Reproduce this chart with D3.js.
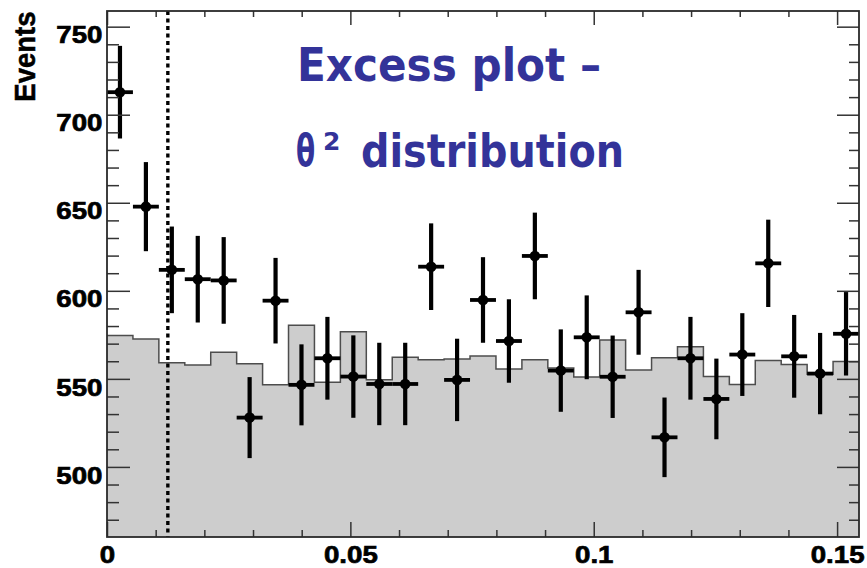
<!DOCTYPE html>
<html>
<head>
<meta charset="utf-8">
<script src="https://cdn.jsdelivr.net/npm/d3@7"></script>
<style>
  html, body { margin: 0; padding: 0; background: #fff; }
  svg { display: block; }
</style>
</head>
<body>
<svg id="chart" width="867" height="568"></svg>
<script>
// ---------------- data ----------------
const xMax = 0.1545;            // upper edge of the theta^2 axis
const nBins = 29;               // number of histogram bins
const thetaCut = 0.0125;        // dotted cut line
// excess events per bin (points)
const excess = [712.8, 647.8, 611.9, 606.6, 605.9, 528.0, 594.4, 546.6, 561.7, 551.3,
                547.1, 547.1, 613.7, 549.4, 594.8, 571.5, 619.8, 554.7, 573.6, 551.2,
                587.8, 516.8, 561.7, 538.6, 563.8, 615.6, 562.8, 553.0, 575.6];
// statistical error per bin
const errors = [26.3, 25.3, 24.6, 24.6, 24.6, 23.0, 24.3, 23.0, 23.5, 23.4,
                23.4, 23.4, 24.6, 23.4, 24.3, 23.7, 24.6, 23.4, 23.8, 23.4,
                24.1, 22.6, 23.5, 22.9, 23.5, 24.8, 23.5, 23.1, 23.7];
// grey reference histogram per bin
const background = [574.6, 572.7, 559.2, 557.9, 565.1, 558.6, 546.6, 580.5, 548.1, 576.8,
                    549.5, 562.3, 560.8, 561.3, 563.0, 555.6, 560.8, 556.2, 551.1, 572.1,
                    555.1, 562.0, 568.2, 551.3, 546.8, 560.4, 558.2, 552.6, 559.8];
const xMajorTicks = [0, 0.05, 0.1, 0.15];
const xTickLabels = ["0", "0.05", "0.1", "0.15"];
const yMajorTicks = [500, 550, 600, 650, 700, 750];
const yTickLabels = ["500", "550", "600", "650", "700", "750"];
const yTitle = "Events";
const titleLine1 = "Excess plot \u2013";
const titleTheta = "\u03b8";
const titleSup = "2";
const titleLine2 = "distribution";

// ---------------- layout ----------------
const L = 107, R = 859, T = 11, B = 537;
const svg = d3.select("#chart");
const x = d3.scaleLinear().domain([0, xMax]).range([L, R]);
const y = d3.scaleLinear().domain([460.2, 758.9]).range([B, T]);
const binW = xMax / nBins;
const edges = d3.range(nBins + 1).map(i => i * binW);

const xMinor = d3.range(0, 0.1545, 0.01).map(v => +v.toFixed(3)).filter(v => !xMajorTicks.some(m => Math.abs(m - v) < 1e-9));
const yMinor = d3.range(470, 751, 10).filter(v => v % 50 !== 0);

svg.append("rect").attr("x", 0).attr("y", 0).attr("width", 867).attr("height", 568).attr("fill", "#fff");

svg.append("clipPath").attr("id", "frameClip")
  .append("rect").attr("x", L).attr("y", T).attr("width", R - L).attr("height", B - T);

const plot = svg.append("g").attr("clip-path", "url(#frameClip)");

// grey histogram
const histPts = background.map((v, i) => [edges[i], v]).concat([[edges[nBins], background[nBins - 1]]]);
const area = d3.area().x(d => x(d[0])).y0(y(y.domain()[0]) + 2).y1(d => y(d[1])).curve(d3.curveStepAfter);
plot.append("path").datum(histPts).attr("d", area).attr("fill", "#cdcdcd");
const line = d3.line().x(d => x(d[0])).y(d => y(d[1])).curve(d3.curveStepAfter);
plot.append("path").datum(histPts).attr("d", line).attr("fill", "none")
  .attr("stroke", "#4d4d4d").attr("stroke-width", 1.5);

// dotted cut line
plot.append("line").attr("x1", x(thetaCut)).attr("x2", x(thetaCut))
  .attr("y1", T).attr("y2", B)
  .attr("stroke", "#000").attr("stroke-width", 3.4).attr("stroke-dasharray", "4,3.5");

// data points with errors
const pts = plot.append("g");
excess.forEach((v, i) => {
  const cx = x(edges[i] + binW / 2);
  pts.append("line").attr("x1", cx).attr("x2", cx)
    .attr("y1", y(v - errors[i])).attr("y2", y(v + errors[i]))
    .attr("stroke", "#000").attr("stroke-width", 4.2);
  pts.append("line").attr("x1", x(edges[i])).attr("x2", x(edges[i + 1]))
    .attr("y1", y(v)).attr("y2", y(v))
    .attr("stroke", "#000").attr("stroke-width", 3.8);
  pts.append("circle").attr("cx", cx).attr("cy", y(v)).attr("r", 5.3).attr("fill", "#000");
});

// ---------------- axes (ticks inward on all 4 sides) ----------------
const tickColor = "#333";
const labelFont = "'Liberation Sans', Arial, sans-serif";
function styleAxis(g) {
  g.select(".domain").remove();
  g.selectAll(".tick line").attr("stroke", tickColor).attr("stroke-width", 1.5);
}
function styleLabels(sel) {
  sel.attr("font-family", labelFont)
    .attr("font-weight", "bold").attr("font-size", 24.5).attr("fill", "#000")
    .attr("stroke", "#000").attr("stroke-width", 0.7)
    .attr("transform", "scale(1.13,1)");
}
// left
svg.append("g").attr("transform", `translate(${L},0)`)
  .call(d3.axisLeft(y).tickValues(yMajorTicks).tickSize(-23).tickFormat((d, i) => yTickLabels[i]))
  .call(styleAxis)
  .call(g => g.selectAll("text").attr("x", -4).attr("dy", "0.66em").call(styleLabels));
svg.append("g").attr("transform", `translate(${L},0)`)
  .call(d3.axisLeft(y).tickValues(yMinor).tickSize(-12).tickFormat(""))
  .call(styleAxis);
// right
svg.append("g").attr("transform", `translate(${R},0)`)
  .call(d3.axisRight(y).tickValues(yMajorTicks).tickSize(-22).tickFormat(""))
  .call(styleAxis);
svg.append("g").attr("transform", `translate(${R},0)`)
  .call(d3.axisRight(y).tickValues(yMinor).tickSize(-10).tickFormat(""))
  .call(styleAxis);
// bottom
svg.append("g").attr("transform", `translate(0,${B})`)
  .call(d3.axisBottom(x).tickValues(xMajorTicks).tickSize(-15).tickFormat((d, i) => xTickLabels[i]))
  .call(styleAxis)
  .call(g => g.selectAll("text").attr("y", 26.5).attr("dy", 0).call(styleLabels));
svg.append("g").attr("transform", `translate(0,${B})`)
  .call(d3.axisBottom(x).tickValues(xMinor).tickSize(-7).tickFormat(""))
  .call(styleAxis);
// top
svg.append("g").attr("transform", `translate(0,${T})`)
  .call(d3.axisTop(x).tickValues(xMajorTicks).tickSize(-14).tickFormat(""))
  .call(styleAxis);
svg.append("g").attr("transform", `translate(0,${T})`)
  .call(d3.axisTop(x).tickValues(xMinor).tickSize(-6).tickFormat(""))
  .call(styleAxis);

// frame
svg.append("rect").attr("x", L).attr("y", T).attr("width", R - L).attr("height", B - T)
  .attr("fill", "none").attr("stroke", "#2a2a2a").attr("stroke-width", 1.8);

// y title
svg.append("text")
  .attr("transform", "translate(35,11.5) rotate(-90) scale(1,1.08)")
  .attr("text-anchor", "end")
  .attr("font-family", labelFont)
  .attr("font-weight", "bold").attr("font-size", 27.5).attr("fill", "#000")
  .attr("stroke", "#000").attr("stroke-width", 0.5)
  .text(yTitle);

// annotation text
const titleColor = "#333399";
const titleFont = "'DejaVu Sans', 'Noto Sans', sans-serif";
svg.append("text").attr("x", 297).attr("y", 80.5)
  .attr("font-family", titleFont).attr("font-weight", "bold").attr("font-size", 47)
  .attr("fill", titleColor)
  .attr("textLength", 304).attr("lengthAdjust", "spacingAndGlyphs")
  .text(titleLine1);
svg.append("text").attr("transform", "translate(296,166) scale(0.62,1)")
  .attr("font-family", titleFont).attr("font-weight", "bold").attr("font-size", 45)
  .attr("fill", titleColor)
  .text(titleTheta);
svg.append("text").attr("x", 323).attr("y", 150)
  .attr("font-family", titleFont).attr("font-weight", "bold").attr("font-size", 25)
  .attr("fill", titleColor)
  .text(titleSup);
svg.append("text").attr("x", 361).attr("y", 166.5)
  .attr("font-family", titleFont).attr("font-weight", "bold").attr("font-size", 47)
  .attr("fill", titleColor)
  .attr("textLength", 263).attr("lengthAdjust", "spacingAndGlyphs")
  .text(titleLine2);
</script>
</body>
</html>
